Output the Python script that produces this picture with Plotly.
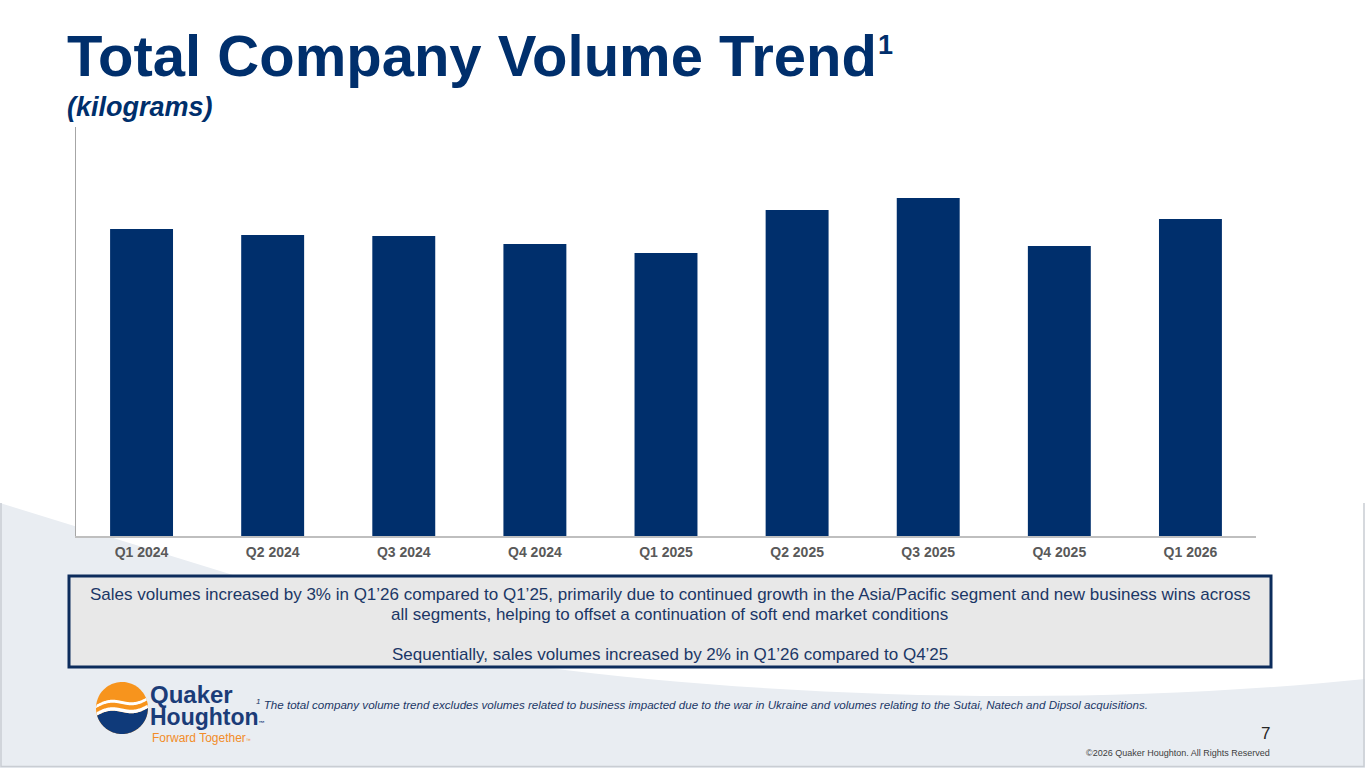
import numpy as np
import plotly.graph_objects as go

# ---------------- data ----------------
categories = ["Q1 2024", "Q2 2024", "Q3 2024", "Q4 2024", "Q1 2025",
              "Q2 2025", "Q3 2025", "Q4 2025", "Q1 2026"]
# relative volume (no value axis shown in the source)
volumes = [307, 301, 300, 292, 283, 326, 338, 290, 317]
y_range = [0, 409]

title_text = "Total Company Volume Trend"
title_sup = "1"
subtitle_text = "(kilograms)"
box_lines = [
    "Sales volumes increased by 3% in Q1\u201926 compared to Q1\u201925, primarily due to continued growth in the Asia/Pacific segment and new business wins across",
    "all segments, helping to offset a continuation of soft end market conditions",
    "Sequentially, sales volumes increased by 2% in Q1\u201926 compared to Q4\u201925",
]
footnote_text = "<sup>1</sup> The total company volume trend excludes volumes related to business impacted due to the war in Ukraine and volumes relating to the Sutai, Natech and Dipsol acquisitions."
page_no = "7"
copyright_text = "\u00a92026 Quaker Houghton. All Rights Reserved"

# ---------------- style ----------------
W, H = 1365, 768
X0, X1, Y0, Y1 = 76, 1256, 127, 536   # plot area in px
NAVY = "#002f6c"
TEXT_NAVY = "#1b3766"
FONT = "Arial, Liberation Sans, sans-serif"


def px(x):
    return (x - X0) / (X1 - X0)


def py(y):
    return (Y1 - y) / (Y1 - Y0)


def pt(x, y):
    return f"{px(x):.6f},{py(y):.6f}"


def poly(pts):
    return "M " + " L ".join(pt(x, y) for x, y in pts) + " Z"


fig = go.Figure()
fig.add_trace(go.Bar(
    x=categories, y=volumes, marker=dict(color=NAVY, line=dict(width=0)),
    hoverinfo="x",
))

shapes = []
# background footer shape
bg_path = ("M " + pt(0, 503) + " L " + pt(76, 526.5) + " L " + pt(76, 536) +
           " L " + pt(106.8, 536) + " L " + pt(233, 575) + " L " + pt(540, 667) +
           " C " + pt(800, 700) + " " + pt(1100, 706) + " " + pt(1365, 679) +
           " L " + pt(1365, 768) + " L " + pt(0, 768) + " Z")
shapes.append(dict(type="path", xref="paper", yref="paper", path=bg_path,
                   fillcolor="#e9edf2", line=dict(width=0), layer="below"))
border = "M " + pt(1, 503) + " L " + pt(1, 766.5) + " L " + pt(1364, 766.5) + " L " + pt(1364, 503)
shapes.append(dict(type="path", xref="paper", yref="paper", path=border,
                   line=dict(color="#c9cdd3", width=1.5), layer="below"))

# commentary box
shapes.append(dict(type="rect", xref="paper", yref="paper",
                   x0=px(69), x1=px(1271), y0=py(667), y1=py(576),
                   fillcolor="#e8e8e8", line=dict(color="#0c2c5c", width=3), layer="above"))

# logo mark
cx, cy, r = 122, 708, 26
t = np.linspace(0, 2 * np.pi, 90)
shapes.append(dict(type="path", xref="paper", yref="paper",
                   path=poly(list(zip(cx + r * np.cos(t), cy + r * np.sin(t)))),
                   fillcolor="#f7941d", line=dict(width=0), layer="above"))


def wave(x):
    u = (x - cx) / r
    return cy + 4 - 4 * u + 3 * np.sin(np.pi * u)


xs = np.linspace(cx - r + 0.01, cx + r - 0.01, 80)
half = np.sqrt(np.maximum(r ** 2 - (xs - cx) ** 2, 0))
top_c, bot_c = cy - half, cy + half


def band(a_off, b_off):
    a = np.maximum(wave(xs) + a_off, top_c)
    b = np.minimum(wave(xs) + b_off, bot_c)
    m = a < b
    up = list(zip(xs[m], a[m]))
    lo = list(zip(xs[m][::-1], b[m][::-1]))
    return poly(up + lo)


shapes.append(dict(type="path", xref="paper", yref="paper", path=band(0, 60),
                   fillcolor="#0f3a7a", line=dict(width=0), layer="above"))
shapes.append(dict(type="path", xref="paper", yref="paper", path=band(-3.5, 0),
                   fillcolor="#ffffff", line=dict(width=0), layer="above"))
shapes.append(dict(type="path", xref="paper", yref="paper", path=band(-11, -8),
                   fillcolor="#ffffff", line=dict(width=0), layer="above"))

annotations = []


def ann(text, x, y, size, color, weight="normal", style="normal",
        xanchor="left", yanchor="middle", family=FONT):
    annotations.append(dict(
        text=text, x=px(x), y=py(y), xref="paper", yref="paper",
        xanchor=xanchor, yanchor=yanchor, showarrow=False,
        font=dict(family=family, size=size, color=color, weight=weight, style=style),
    ))


ann(title_text, 65, 55, 58, NAVY, weight="bold")
ann(title_sup, 876, 45, 27, NAVY, weight="bold")
ann(subtitle_text, 65, 107, 27, NAVY, weight="bold", style="italic")

ann(box_lines[0], 670, 594, 17, TEXT_NAVY, xanchor="center")
ann(box_lines[1], 670, 614, 17, TEXT_NAVY, xanchor="center")
ann(box_lines[2], 670, 654, 17, TEXT_NAVY, xanchor="center")

ann(footnote_text, 254, 704, 11.6, TEXT_NAVY, style="italic")
ann(page_no, 1272, 733, 17, "#262626", xanchor="right")
ann(copyright_text, 1272, 753, 9, "#404040", xanchor="right")

ann("Quaker", 148, 694, 24, "#1b3c78", weight="bold", yanchor="middle")
ann("Houghton<span style='font-size:6px'>\u2122</span>", 148, 717, 23, "#1b3c78", weight="bold")
ann("Forward Together<span style='font-size:5px'>\u2122</span>", 150, 738, 12, "#f28c28")

fig.update_layout(
    width=W, height=H,
    margin=dict(l=X0, r=W - X1, t=Y0, b=H - Y1, pad=0),
    paper_bgcolor="white", plot_bgcolor="white",
    showlegend=False, bargap=0.52,
    font=dict(family=FONT),
    shapes=shapes, annotations=annotations,
    xaxis=dict(
        showline=True, linecolor="#bfbfbf", linewidth=2, ticks="",
        showgrid=False, zeroline=False,
        tickfont=dict(family=FONT, size=14, color="#595959", weight="bold"),
        ticklabelstandoff=2,
    ),
    yaxis=dict(
        range=y_range, showline=True, linecolor="#a6a6a6", linewidth=1,
        showticklabels=False, ticks="", showgrid=False, zeroline=False,
    ),
)

fig.write_html("out.html", config={"displayModeBar": False},
               post_script="document.body.style.margin='0px';document.body.style.overflow='hidden';")
